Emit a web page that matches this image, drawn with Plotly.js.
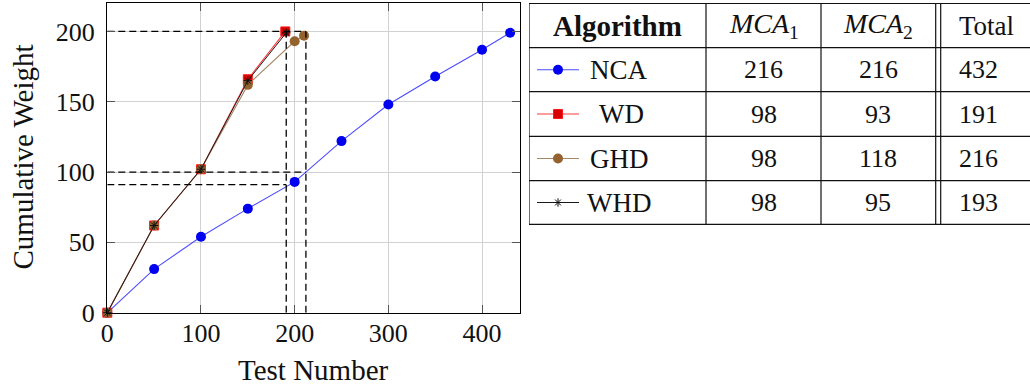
<!DOCTYPE html>
<html>
<head>
<meta charset="utf-8">
<script src="https://cdn.plot.ly/plotly-3.0.1.min.js"></script>
<style>html,body{margin:0;padding:0;background:#fff;}#chart{width:1030px;height:388px;}</style>
</head>
<body>
<div id="chart"></div>
<script>
// ---- chart data ----
const ncaX = [0, 50, 100, 150, 200, 250, 300, 350, 400, 430];
const ncaY = [0, 31, 54, 74, 93, 122, 148, 168, 187, 199];
const wdX  = [0, 50, 100, 150, 190];
const wdY  = [0, 62, 102, 166, 200];
const ghdX = [0, 50, 100, 150, 200, 210];
const ghdY = [0, 62, 102, 162, 193, 197];
const whdX = [0, 50, 100, 150, 191];
const whdY = [0, 62, 102, 165, 199];

// dashed guide lines
const vGuideX   = [191, 212];
const vGuideTop = [200, 200];
const hGuideY   = [200, 100, 91];
const hGuideEnd = [212, 212, 191];

// axis ticks and titles
const xTicks = [0, 100, 200, 300, 400];
const yTicks = [0, 50, 100, 150, 200];
const xTitle = 'Test Number';
const yTitle = 'Cumulative Weight';

// table data
const tableHeaders = ['<b>Algorithm</b>', '<i>MCA</i><sub>1</sub>', '<i>MCA</i><sub>2</sub>', 'Total'];
const tableAlgorithms = ['NCA', 'WD', 'GHD', 'WHD'];
const mca1Values = [216, 98, 98, 98];
const mca2Values = [216, 93, 118, 95];
const totalValues = [432, 191, 216, 193];

// ---- styles ----
const FONT = '"Liberation Serif", "DejaVu Serif", serif';
const styles = {
  NCA: {line: {color: '#4d4dff', width: 1.1}, marker: {symbol: 'circle', size: 10, color: '#0000f0'}},
  WD:  {line: {color: '#ff3b3b', width: 1.1}, marker: {symbol: 'square', size: 9, color: '#d80000', line: {color: '#ff1a1a', width: 1}}},
  GHD: {line: {color: '#a88767', width: 1.1}, marker: {symbol: 'circle', size: 10, color: '#94622f'}},
  WHD: {line: {color: '#1a1a1a', width: 1.0}, marker: {symbol: 'asterisk-open', size: 7, color: '#111', line: {color: '#111', width: 1}}}
};

const traces = [];
const series = {NCA: [ncaX, ncaY], WD: [wdX, wdY], GHD: [ghdX, ghdY], WHD: [whdX, whdY]};
['NCA', 'WD', 'GHD', 'WHD'].forEach(function (name) {
  traces.push({
    type: 'scatter', mode: 'lines+markers', name: name,
    x: series[name][0], y: series[name][1],
    line: styles[name].line, marker: styles[name].marker,
    cliponaxis: false, showlegend: false, hoverinfo: 'x+y'
  });
});

const dashStyle = {color: '#000', width: 1.3, dash: '7px,4px'};
vGuideX.forEach(function (gx, i) {
  traces.push({type: 'scatter', mode: 'lines', x: [gx, gx], y: [0, vGuideTop[i]],
    line: dashStyle, showlegend: false, hoverinfo: 'skip'});
});
hGuideY.forEach(function (gy, i) {
  traces.push({type: 'scatter', mode: 'lines', x: [0, hGuideEnd[i]], y: [gy, gy],
    line: dashStyle, showlegend: false, hoverinfo: 'skip'});
});
// invisible carrier trace so the label-only x axis is drawn
traces.push({type: 'scatter', mode: 'markers', x: [xTicks[0]], y: [yTicks[0]], xaxis: 'x3', yaxis: 'y',
  marker: {opacity: 0}, showlegend: false, hoverinfo: 'skip'});

// ---- geometry ----
const W = 1030, H = 388;
const plotL = 107.3, plotR = 519.5, plotT = 3.3, plotB = 312.7;

// ---- table (drawn on a pixel-scaled second axis pair) ----
const tblLeft = 529;
const colEdges = [529, 706, 821];          // single vertical rules
const dblRule = [935.7, 940.7];            // double vertical rule
const rowEdges = [3.5, 47.7, 91.7, 136.3, 180.7, 224.3];
const shapes = [];
const tl = {color: '#111', width: 1.2};
rowEdges.forEach(function (y) {
  shapes.push({type: 'line', xref: 'x2', yref: 'y2', x0: tblLeft, x1: W, y0: y, y1: y, line: tl});
});
colEdges.concat(dblRule).forEach(function (x) {
  shapes.push({type: 'line', xref: 'x2', yref: 'y2', x0: x, x1: x, y0: rowEdges[0], y1: rowEdges[rowEdges.length - 1], line: tl});
});

const rowCenters = [];
for (let i = 0; i < rowEdges.length - 1; i++) rowCenters.push((rowEdges[i] + rowEdges[i + 1]) / 2);
const col1Center = (colEdges[0] + colEdges[1]) / 2;
const col2Center = (colEdges[1] + colEdges[2]) / 2;
const col3Center = (colEdges[2] + dblRule[0]) / 2;
const totalLeft = 957;

const annotations = [];
function ann(text, x, y, size, anchor, extra) {
  const a = {xref: 'x2', yref: 'y2', x: x, y: y, text: text, showarrow: false,
    xanchor: anchor || 'center', yanchor: 'middle',
    font: {family: FONT, size: size, color: '#111'}};
  return Object.assign(a, extra || {});
}
annotations.push(ann(tableHeaders[0], col1Center, rowCenters[0], 29));
annotations.push(ann(tableHeaders[1], col2Center, rowCenters[0], 28));
annotations.push(ann(tableHeaders[2], col3Center, rowCenters[0], 28));
annotations.push(ann(tableHeaders[3], totalLeft, rowCenters[0], 27, 'left'));

const labelLeft = {NCA: 588, WD: 597, GHD: 588, WHD: 585};
const glyphX = [537, 558, 579];
tableAlgorithms.forEach(function (name, i) {
  const yc = rowCenters[i + 1];
  annotations.push(ann(name, labelLeft[name], yc, 27, 'left'));
  annotations.push(ann(String(mca1Values[i]), col2Center, yc, 26));
  annotations.push(ann(String(mca2Values[i]), col3Center, yc, 26));
  annotations.push(ann(String(totalValues[i]), totalLeft, yc, 26, 'left'));
  traces.push({type: 'scatter', mode: 'lines', xaxis: 'x2', yaxis: 'y2',
    x: [glyphX[0], glyphX[2]], y: [yc, yc], line: styles[name].line,
    showlegend: false, hoverinfo: 'skip', cliponaxis: false});
  traces.push({type: 'scatter', mode: 'markers', xaxis: 'x2', yaxis: 'y2',
    x: [glyphX[1]], y: [yc], marker: styles[name].marker,
    showlegend: false, hoverinfo: 'skip', cliponaxis: false});
});

// axis titles (as text annotations for exact placement)
annotations.push({xref: 'paper', yref: 'paper', x: ((plotL + plotR) / 2) / W, y: (H - 370) / H,
  xanchor: 'center', yanchor: 'middle', showarrow: false, text: xTitle,
  font: {family: FONT, size: 29, color: '#111'}});
annotations.push({xref: 'paper', yref: 'paper', x: 22 / W, y: (H - 157.5) / H,
  xanchor: 'center', yanchor: 'middle', showarrow: false, text: yTitle, textangle: -90,
  font: {family: FONT, size: 29, color: '#111'}});

const tickFont = {family: FONT, size: 26, color: '#111'};
const layout = {
  width: W, height: H,
  margin: {l: 0, r: 0, t: 0, b: 0, pad: 0},
  paper_bgcolor: '#fff', plot_bgcolor: 'rgba(0,0,0,0)',
  showlegend: false,
  font: {family: FONT},
  xaxis: {
    domain: [plotL / W, plotR / W], range: [0, 440],
    tickmode: 'array', tickvals: xTicks, showticklabels: false,
    ticks: 'inside', ticklen: 8, tickcolor: '#555', tickwidth: 1,
    showline: true, linecolor: '#000', linewidth: 1.3, mirror: 'ticks',
    showgrid: true, gridcolor: '#d2d2d2', gridwidth: 1, zeroline: false,
    automargin: false
  },
  // label-only x axis placed at the frame's bottom edge
  xaxis3: {
    overlaying: 'x', matches: 'x', anchor: 'free', position: (H - plotB) / H, side: 'bottom',
    tickmode: 'array', tickvals: xTicks, ticktext: xTicks.map(String),
    ticks: '', showline: false, showgrid: false, zeroline: false,
    tickfont: tickFont, ticklabelstandoff: 2, automargin: false
  },
  yaxis: {
    domain: [(H - plotB) / H, (H - plotT) / H], range: [0, 220],
    tickmode: 'array', tickvals: yTicks, ticktext: yTicks.map(String),
    ticks: 'inside', ticklen: 8, tickcolor: '#555', tickwidth: 1,
    showline: true, linecolor: '#000', linewidth: 1.3, mirror: 'ticks',
    showgrid: true, gridcolor: '#d2d2d2', gridwidth: 1, zeroline: false,
    tickfont: tickFont, ticklabelstandoff: 6, automargin: false
  },
  xaxis2: {domain: [tblLeft / W, 1], range: [tblLeft, W], visible: false, fixedrange: true, anchor: 'y2'},
  yaxis2: {domain: [0, 1], range: [H, 0], visible: false, fixedrange: true, anchor: 'x2'},
  shapes: shapes,
  annotations: annotations
};

Plotly.newPlot('chart', traces, layout, {displayModeBar: false, staticPlot: true});
</script>
</body>
</html>
